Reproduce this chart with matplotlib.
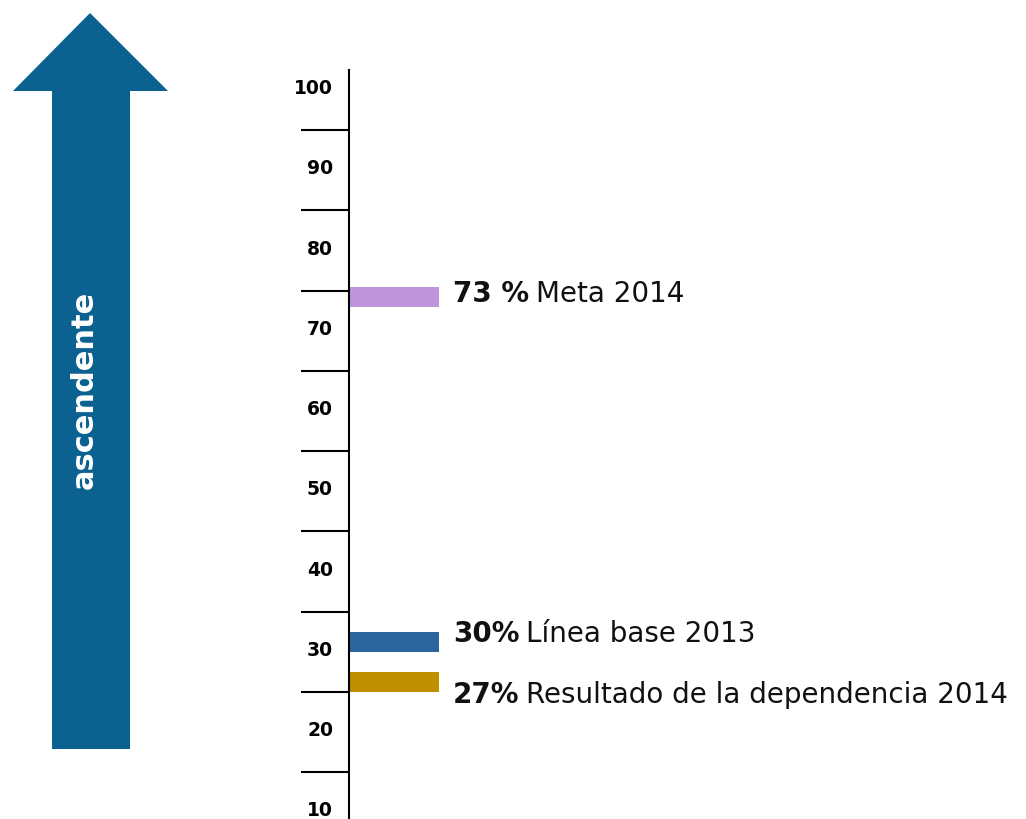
import matplotlib.pyplot as plt
from matplotlib.patches import Polygon

# data
tick_values = [10, 20, 30, 40, 50, 60, 70, 80, 90, 100]
bar_values = [73, 30, 27]
bar_bold = ["73 %", "30%", "27%"]
bar_text = ["Meta 2014", "Línea base 2013", "Resultado de la dependencia 2014"]
bar_colors = ["#C095DC", "#2A659D", "#BF8F00"]
arrow_label = "ascendente"

plt.rcParams['font.family'] = ['DejaVu Sans']

W, H = 1026, 819
fig = plt.figure(figsize=(W / 100, H / 100), dpi=100)

# scale axis (pixel based placement)
x0, ytop, ybot = 349, 70, 818
ax = fig.add_axes([x0 / W, 1 - ybot / H, 1 - x0 / W, (ybot - ytop) / H])
ax.set_ylim(9.27, 102.48)
ax.set_xlim(0, W - x0)
for s in ['top', 'right', 'bottom']:
    ax.spines[s].set_visible(False)
ax.spines['left'].set_linewidth(1.5)
ax.set_xticks([])

# major ticks sit between the labels
ax.set_yticks([v + 5 for v in tick_values[:-1]])
ax.tick_params(axis='y', which='major', length=34.5, width=1.5, labelleft=False)
ax.set_yticks([v + 0.4 for v in tick_values], minor=True)
ax.set_yticklabels([str(v) for v in tick_values], minor=True)
ax.tick_params(axis='y', which='minor', length=0, pad=11.5, labelsize=13.5)
for lab in ax.get_yticklabels(minor=True):
    lab.set_fontweight('bold')

# bars
bar_shift = [0, 0, -2]
bar_h = 2.5
text_dy = [0.3, 0.9, -1.6]
for v, sh, c, b, t, dy in zip(bar_values, bar_shift, bar_colors, bar_bold, bar_text, text_dy):
    ax.barh(v + sh, 89, left=1, height=bar_h, align='edge', color=c)
    tb = ax.text(104, v + sh + bar_h / 2 + dy, b, fontsize=20, fontweight='bold',
                 va='center', ha='left', color='#111111')
    ax.annotate(t, xy=(1, 0), xycoords=tb, xytext=(5, 0), textcoords='offset points',
                va='bottom', ha='left', fontsize=20, color='#111111')

# arrow
pts = [(90, 13), (168, 91), (130, 91), (130, 749), (52, 749), (52, 91), (13, 91)]
arrow = Polygon([(px / W, 1 - py / H) for px, py in pts], closed=True,
                transform=fig.transFigure, facecolor='#0B618F', edgecolor='none')
fig.add_artist(arrow)
fig.text(84 / W, 1 - 390 / H, arrow_label, rotation=90, color='white',
         fontsize=22, fontweight='bold', ha='center', va='center')

fig.savefig('out.png', dpi=100)
